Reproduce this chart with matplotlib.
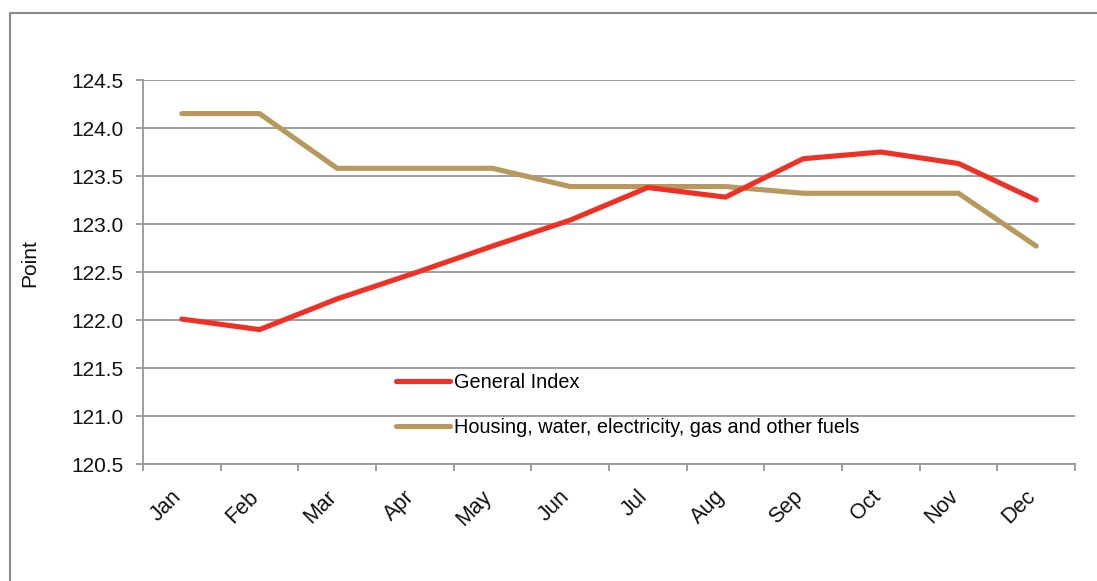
import matplotlib.pyplot as plt
from matplotlib.lines import Line2D

# donnees
mois = ["Jan", "Feb", "Mar", "Apr", "May", "Jun", "Jul", "Aug", "Sep", "Oct", "Nov", "Dec"]
indice_general = [122.01, 121.90, 122.22, 122.49, 122.77, 123.04, 123.38, 123.28, 123.68, 123.75, 123.63, 123.25]
logement = [124.15, 124.15, 123.58, 123.58, 123.58, 123.39, 123.39, 123.39, 123.32, 123.32, 123.32, 122.77]
yticks = [120.5, 121.0, 121.5, 122.0, 122.5, 123.0, 123.5, 124.0, 124.5]

rouge = "#EE3124"
or_ = "#B8985C"
gris = "#979797"

plt.rcParams["font.family"] = ["Liberation Sans", "DejaVu Sans"]

W, H = 1097, 581
fig = plt.figure(figsize=(W / 100, H / 100), dpi=100)
ax = fig.add_axes([143 / W, (H - 464) / H, 932 / W, 384 / H])

x = list(range(len(mois)))
ax.plot(x, indice_general, color=rouge, lw=3.7, solid_capstyle="round", solid_joinstyle="miter",
        label="General Index", zorder=3)
ax.plot(x, logement, color=or_, lw=3.7, solid_capstyle="round", solid_joinstyle="miter",
        label="Housing, water, electricity, gas and other fuels", zorder=2)

ax.set_xlim(-0.5, len(mois) - 0.5)
ax.set_ylim(120.5, 124.5)
ax.set_yticks(yticks)
ax.set_yticklabels([f"{v:.1f}" for v in yticks], fontsize=15, color="#111111")
# etiquettes un peu decalees a droite comme dans l'original
ax.set_xticks([i + 0.05 for i in x])
ax.set_xticklabels(mois, fontsize=15.5, rotation=45, ha="right", va="top", color="#111111")
ax.set_xticks([i - 0.5 for i in range(len(mois) + 1)], minor=True)
ax.tick_params(axis="x", which="major", length=0, pad=16)
ax.tick_params(axis="x", which="minor", length=5, color=gris, width=1.3)
ax.tick_params(axis="y", length=5, color=gris, width=1.3, pad=9)

ax.grid(axis="y", color=gris, lw=1.3)
ax.set_axisbelow(True)
for s in ["top", "right"]:
    ax.spines[s].set_visible(False)
for s in ["left", "bottom"]:
    ax.spines[s].set_color(gris)
    ax.spines[s].set_linewidth(1.3)

fig.text(30 / W, 1 - 263 / H, "Point", rotation=90, fontsize=15, ha="center", va="center", color="#111111")

ax.legend(loc="upper left", bbox_to_anchor=(0.271, 0.237), frameon=False, fontsize=14.3,
          handlelength=2.75, handletextpad=0.2, labelspacing=1.32, borderpad=0, borderaxespad=0)

# cadre exterieur
fig.add_artist(Line2D([10 / W, 10 / W, 1.0], [0, 1 - 13 / H, 1 - 13 / H], transform=fig.transFigure,
                      color="#8a8a8a", lw=1.5))

fig.savefig("out.png", dpi=100)
